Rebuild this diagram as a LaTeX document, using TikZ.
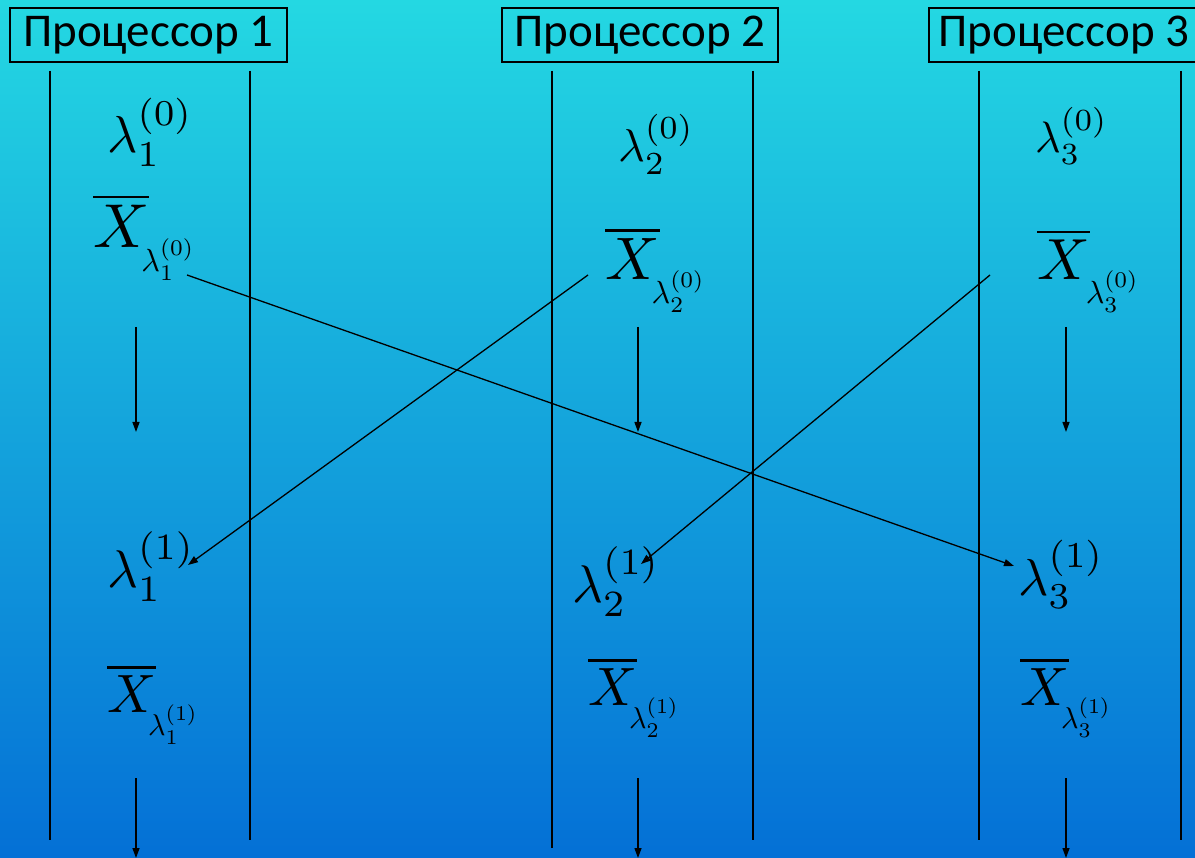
\documentclass[tikz,border=0pt]{standalone}
\usepackage{graphicx}
\usepackage{fontspec}
\newfontfamily\procfont{Carlito}
\usetikzlibrary{arrows.meta}
% #1 scale of X, #2 scale of subscript, #3 index, #4 superscript, #5 gap
\newcommand{\XL}[5]{\scalebox{#1}{$\overline{X}$}\hspace{#5}\raisebox{-24pt}{\scalebox{#2}{$\lambda_{#3}^{(#4)}$}}}
\newcommand{\LL}[3]{\scalebox{#1}{$\lambda_{#2}^{(#3)}$}}
\definecolor{bgtop}{RGB}{36,216,226}
\definecolor{bgmid}{RGB}{20,165,225}
\definecolor{bgbot}{RGB}{4,112,214}
\begin{document}
\begin{tikzpicture}[x=1pt,y=-1pt,
  box/.style={draw,line width=1.5pt,minimum height=54pt,inner sep=0pt,
    font=\procfont\fontsize{47}{54}\selectfont},
  vline/.style={line width=1.3pt},
  link/.style={line width=1.3pt,-{Triangle[length=10pt,width=7pt]}},
  mth/.style={inner sep=0pt,anchor=base west}]
\shade[top color=bgtop,middle color=bgmid,bottom color=bgbot] (0,0) rectangle (1195,858);
\useasboundingbox (0,0) rectangle (1195,858);

% processor boxes
\node[box,minimum width=277pt] (p1) at (148.5,35) {Процессор 1};
\node[box,minimum width=276pt] (p2) at (640,35) {Процессор 2};
\node[box,minimum width=270pt] (p3) at (1064,35) {Процессор 3};

% vertical lines
\foreach \x/\b in {50/840,250/840,552/848,753/840,979/840,1181/840}
  \draw[vline] (\x,71) -- (\x,\b);

% formulas
\node[mth] (l10) at (107,153) {\LL{5.2}{1}{0}};
\node[mth] (l20) at (618,162) {\LL{4.6}{2}{0}};
\node[mth] (l30) at (1035,153) {\LL{4.4}{3}{0}};
\node[mth] (X10) at (93,248) {\XL{6.2}{3.2}{1}{0}{-8pt}};
\node[mth] (X20) at (605,280) {\XL{6.0}{3.2}{2}{0}{-8pt}};
\node[mth] (X30) at (1037,280) {\XL{5.8}{3.2}{3}{0}{-4pt}};
\node[mth] (l11) at (107,587) {\LL{5.3}{1}{1}};
\node[mth] (l21) at (572,602) {\LL{5.3}{2}{1}};
\node[mth] (l31) at (1018,595) {\LL{5.2}{3}{1}};
\node[mth] (X11) at (107,712) {\XL{5.4}{3.0}{1}{1}{-8pt}};
\node[mth] (X21) at (588,705) {\XL{5.4}{3.0}{2}{1}{-8pt}};
\node[mth] (X31) at (1020,705) {\XL{5.4}{3.0}{3}{1}{-8pt}};

% connector end points
\coordinate (a1) at (187,275);  \coordinate (a2) at (1014,566);
\coordinate (b1) at (588,275);  \coordinate (b2) at (188,565);
\coordinate (c1) at (990,275);  \coordinate (c2) at (641,564);
\draw[link] (a1) -- (a2);
\draw[link] (b1) -- (b2);
\draw[link] (c1) -- (c2);

% down arrows
\foreach \x/\n in {136/1,638/2,1066/3}{
  \coordinate (u\n s) at (\x,327); \coordinate (u\n e) at (\x,432);
  \coordinate (d\n s) at (\x,778); \coordinate (d\n e) at (\x,858);
  \draw[link] (u\n s) -- (u\n e);
  \draw[link] (d\n s) -- (d\n e);
}
\end{tikzpicture}
\end{document}
